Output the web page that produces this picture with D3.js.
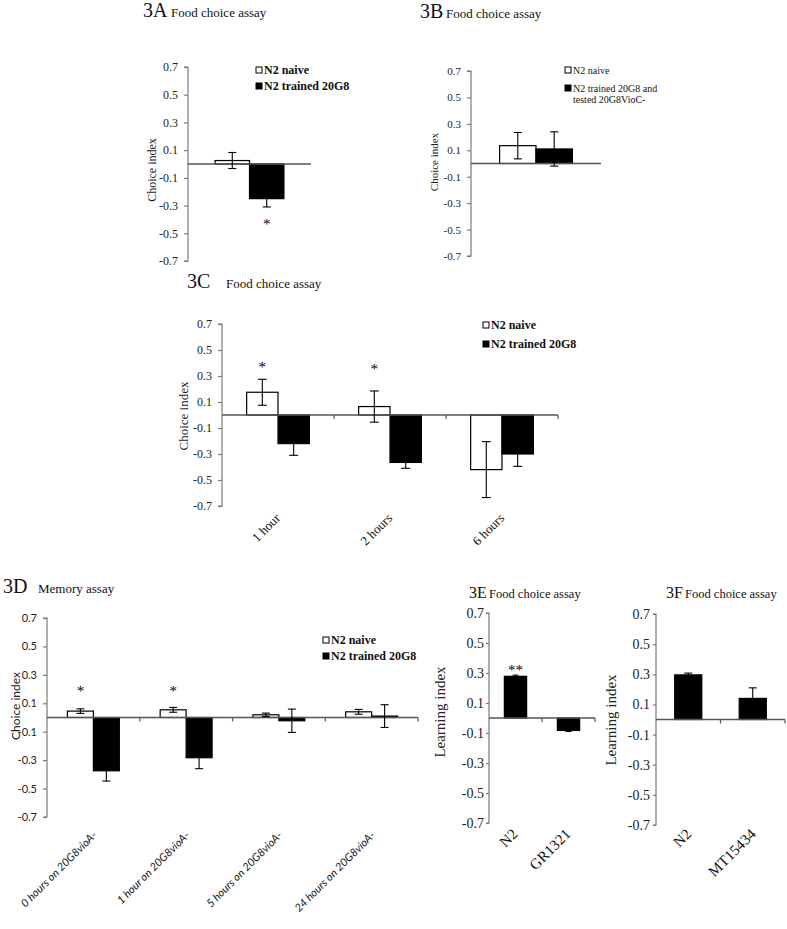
<!DOCTYPE html>
<html>
<head>
<meta charset="utf-8">
<script src="https://cdnjs.cloudflare.com/ajax/libs/d3/7.8.5/d3.min.js"></script>
<style>
  html, body { margin: 0; padding: 0; background: #fff; }
  svg { display: block; }
</style>
</head>
<body>
<div id="chart"></div>
<script>
// ---------------- DATA ----------------
const yTickValues = [0.7, 0.5, 0.3, 0.1, -0.1, -0.3, -0.5, -0.7];
const yTickLabels = ["0.7", "0.5", "0.3", "0.1", "-0.1", "-0.3", "-0.5", "-0.7"];

const seriesNaiveTrained = ["N2 naive", "N2 trained 20G8"];
const seriesB = ["N2 naive", "N2 trained 20G8 and", "tested 20G8VioC-"];

// 3A
const categoriesA = ["all"];
const naiveA = [0.025];
const naiveErrA = [0.058];
const trainedA = [-0.25];
const trainedErrA = [0.06];
const starsA = [{ cat: 0, series: 1, at: -0.42, text: "*" }];

// 3B
const categoriesB = ["all"];
const naiveB = [0.135];
const naiveErrB = [0.1];
const trainedB = [0.11];
const trainedErrB = [0.13];

// 3C
const categoriesC = ["1 hour", "2 hours", "6 hours"];
const naiveC = [0.175, 0.065, -0.42];
const naiveErrC = [0.1, 0.12, 0.215];
const trainedC = [-0.22, -0.365, -0.30];
const trainedErrC = [0.09, 0.045, 0.095];
const starsC = [{ cat: 0, series: 0, at: 0.385, text: "*" }, { cat: 1, series: 0, at: 0.37, text: "*" }];

// 3D
const categoriesD = ["0 hours on 20G8vioA-", "1 hour on 20G8vioA-", "5 hours on 20G8vioA-", "24 hours on 20G8vioA-"];
const naiveD = [0.045, 0.054, 0.019, 0.04];
const naiveErrD = [0.016, 0.017, 0.012, 0.017];
const trainedD = [-0.375, -0.283, -0.023, 0.01];
const trainedErrD = [0.072, 0.077, 0.082, 0.08];
const starsD = [{ cat: 0, series: 0, at: 0.2, text: "*" }, { cat: 1, series: 0, at: 0.2, text: "*" }];

// 3E
const categoriesE = ["N2", "GR1321"];
const learningE = [0.278, -0.083];
const learningErrE = [0.008, 0.007];
const starsE = [{ cat: 0, series: 0, at: 0.333, text: "**" }];

// 3F
const categoriesF = ["N2", "MT15434"];
const learningF = [0.296, 0.14];
const learningErrF = [0.012, 0.07];

// ---------------- DRAWING ----------------
const W = 787, H = 929;
const SERIF = "Liberation Serif, Times New Roman, serif";
const SANS = "Lato, Liberation Sans, sans-serif";
const svg = d3.select("#chart").append("svg").attr("width", W).attr("height", H);
svg.append("rect").attr("width", W).attr("height", H).attr("fill", "#fff");

function panel(cfg) {
  const g = svg.append("g");
  const y = d3.scaleLinear().domain([-0.7, 0.7]).range([cfg.yBottom, cfg.yTop]);
  const x0 = d3.scaleBand().domain(d3.range(cfg.categories.length)).range([cfg.xLeft, cfg.xRight]).padding(0);
  const x1 = d3.scaleBand().domain(d3.range(cfg.series.length)).range([0, x0.bandwidth()])
    .paddingInner(0).paddingOuter(cfg.barPad);
  const tl = cfg.tickLen || 4;

  // y axis
  const yAxis = d3.axisLeft(y).tickValues(yTickValues).tickSize(tl)
    .tickFormat((d, i) => yTickLabels[i]).tickPadding(cfg.tickPad || 5);
  const ya = g.append("g").attr("transform", `translate(${cfg.xLeft},0)`).call(yAxis)
    .attr("font-family", cfg.tickFont || SERIF).attr("font-size", cfg.tickSize || 12);
  ya.select(".domain").attr("stroke", "#7a7a7a").attr("stroke-width", 1.2)
    .attr("d", `M-${tl},${y(0.7)}H0V${y(-0.7)}H-${tl}`);
  ya.selectAll(".tick line").attr("stroke", "#7a7a7a").attr("stroke-width", 1.2);
  ya.selectAll(".tick text").attr("fill", "#222");

  // bars
  cfg.series.forEach((s, si) => {
    const vals = cfg.values[si];
    g.append("g").selectAll("rect").data(vals).join("rect")
      .attr("x", (d, i) => x0(i) + x1(si))
      .attr("width", x1.bandwidth())
      .attr("y", d => y(Math.max(0, d)))
      .attr("height", d => Math.abs(y(d) - y(0)))
      .attr("fill", cfg.fills[si])
      .attr("stroke", "#000").attr("stroke-width", 1.2);
  });

  // zero line
  g.append("line").attr("x1", cfg.xLeft).attr("x2", cfg.xRight)
    .attr("y1", y(0)).attr("y2", y(0)).attr("stroke", "#555").attr("stroke-width", 1.3);
  // category ticks
  if (cfg.catTicks) {
    const bounds = d3.range(1, cfg.categories.length + 1).map(i => cfg.xLeft + i * x0.step());
    g.append("g").selectAll("line").data(bounds).join("line")
      .attr("x1", d => d).attr("x2", d => d).attr("y1", y(0)).attr("y2", y(0) + 4)
      .attr("stroke", "#555").attr("stroke-width", 1.2);
  }

  // error bars
  cfg.series.forEach((s, si) => {
    const vals = cfg.values[si], errs = cfg.errors[si];
    const eg = g.append("g").attr("stroke", "#000").attr("stroke-width", 1.1);
    vals.forEach((v, i) => {
      const cx = x0(i) + x1(si) + x1.bandwidth() / 2;
      const hi = y(v + errs[i]), lo = y(v - errs[i]);
      const cw = cfg.capW || 4;
      eg.append("line").attr("x1", cx).attr("x2", cx).attr("y1", hi).attr("y2", lo);
      eg.append("line").attr("x1", cx - cw).attr("x2", cx + cw).attr("y1", hi).attr("y2", hi);
      eg.append("line").attr("x1", cx - cw).attr("x2", cx + cw).attr("y1", lo).attr("y2", lo);
    });
  });

  // stars
  (cfg.stars || []).forEach(st => {
    const cx = x0(st.cat) + x1(st.series) + x1.bandwidth() / 2;
    g.append("text").attr("x", cx).attr("y", y(st.at) + 7)
      .attr("text-anchor", "middle").attr("font-family", SERIF).attr("font-size", 15)
      .attr("fill", "#000").text(st.text);
  });

  // category labels
  if (cfg.showCatLabels) {
    cfg.categories.forEach((c, i) => {
      const cx = x0(i) + x0.bandwidth() / 2 + cfg.catDx;
      g.append("text").attr("transform", `translate(${cx},${cfg.catY}) rotate(-45)`)
        .attr("text-anchor", "end").attr("font-family", cfg.catFont)
        .attr("font-size", cfg.catSize).attr("font-style", cfg.catItalic ? "italic" : "normal")
        .attr("fill", "#111").text(c);
    });
  }

  // y label
  g.append("text").attr("transform", `translate(${cfg.yLabelX},${cfg.yLabelY}) rotate(-90)`)
    .attr("text-anchor", "middle").attr("font-family", cfg.yLabelFont || SERIF)
    .attr("font-size", cfg.yLabelSize).attr("fill", "#222").text(cfg.yLabel);

  // title
  const t = cfg.title;
  g.append("text").attr("x", t.x).attr("y", t.y).attr("font-family", SERIF)
    .attr("font-size", t.bigSize).attr("fill", "#111").text(t.big);
  g.append("text").attr("x", t.x2).attr("y", t.y).attr("font-family", SERIF)
    .attr("font-size", t.smallSize).attr("fill", "#111").text(t.small);

  // legend
  if (cfg.legend) {
    const L = cfg.legend;
    L.items.forEach((it, i) => {
      const cy = L.rows[i];
      if (it.swatch !== null) {
        g.append("rect").attr("x", L.x).attr("y", cy - 3).attr("width", 6).attr("height", 6)
          .attr("fill", it.swatch).attr("stroke", "#000").attr("stroke-width", 1);
      }
      g.append("text").attr("x", it.indent ? L.x + it.indent : L.x + 8).attr("y", cy + 4)
        .attr("font-family", SERIF).attr("font-size", L.size)
        .attr("font-weight", L.bold ? "bold" : "normal").attr("fill", "#111").text(it.text);
    });
  }
}

const FILLS = ["#fff", "#000"];

// 3A
panel({
  categories: categoriesA, series: seriesNaiveTrained,
  values: [naiveA, trainedA], errors: [naiveErrA, trainedErrA], fills: FILLS,
  xLeft: 188, xRight: 311, yTop: 67, yBottom: 261, barPad: 0.786,
  tickSize: 12, tickPad: 6, capW: 4, stars: starsA,
  yLabel: "Choice index", yLabelX: 156, yLabelY: 170, yLabelSize: 12,
  title: { big: "3A", small: "Food choice assay", x: 143, x2: 171, y: 17, bigSize: 20, smallSize: 13 },
  legend: { x: 256, rows: [70, 86], size: 12, bold: true,
    items: [{ swatch: "#fff", text: seriesNaiveTrained[0] }, { swatch: "#000", text: seriesNaiveTrained[1] }] }
});

// 3B
panel({
  categories: categoriesB, series: seriesNaiveTrained,
  values: [naiveB, trainedB], errors: [naiveErrB, trainedErrB], fills: FILLS,
  xLeft: 471, xRight: 601, yTop: 71, yBottom: 256, barPad: 0.786,
  tickSize: 11, tickPad: 6, capW: 4,
  yLabel: "Choice index", yLabelX: 438, yLabelY: 162, yLabelSize: 11,
  title: { big: "3B", small: "Food choice assay", x: 420, x2: 446, y: 18, bigSize: 20, smallSize: 13 },
  legend: { x: 565, rows: [70, 88, 99], size: 10, bold: false,
    items: [{ swatch: "#fff", text: seriesB[0] }, { swatch: "#000", text: seriesB[1] }, { swatch: null, text: seriesB[2], indent: 8 }] }
});

// 3C
panel({
  categories: categoriesC, series: seriesNaiveTrained,
  values: [naiveC, trainedC], errors: [naiveErrC, trainedErrC], fills: FILLS,
  xLeft: 222, xRight: 558, yTop: 324, yBottom: 506, barPad: 0.786,
  tickSize: 12, tickPad: 6, capW: 4.5, stars: starsC, catTicks: true,
  showCatLabels: true, catDx: 3, catY: 519, catFont: SERIF, catSize: 13,
  yLabel: "Choice index", yLabelX: 188, yLabelY: 416, yLabelSize: 13,
  title: { big: "3C", small: "Food choice assay", x: 187, x2: 226, y: 288, bigSize: 20, smallSize: 13 },
  legend: { x: 483, rows: [325, 344], size: 12, bold: true,
    items: [{ swatch: "#fff", text: seriesNaiveTrained[0] }, { swatch: "#000", text: seriesNaiveTrained[1] }] }
});

// 3D
panel({
  categories: categoriesD, series: seriesNaiveTrained,
  values: [naiveD, trainedD], errors: [naiveErrD, trainedErrD], fills: FILLS,
  xLeft: 47, xRight: 418, yTop: 618, yBottom: 817, barPad: 0.786,
  tickSize: 11, tickPad: 6, tickFont: SANS, capW: 4, stars: starsD, catTicks: true,
  showCatLabels: true, catDx: 4, catY: 836, catFont: SANS, catSize: 11, catItalic: true,
  yLabel: "Choice index", yLabelX: 20, yLabelY: 706, yLabelSize: 12, yLabelFont: SANS,
  title: { big: "3D", small: "Memory assay", x: 3, x2: 38, y: 593, bigSize: 20, smallSize: 13 },
  legend: { x: 323, rows: [640, 656], size: 12, bold: true,
    items: [{ swatch: "#fff", text: seriesNaiveTrained[0] }, { swatch: "#000", text: seriesNaiveTrained[1] }] }
});

// 3E
panel({
  categories: categoriesE, series: ["Learning index"],
  values: [learningE], errors: [learningErrE], fills: ["#000"],
  xLeft: 489, xRight: 595, yTop: 613, yBottom: 823, barPad: 0.69,
  tickSize: 14, tickPad: 2, tickLen: 3, capW: 3, stars: starsE, catTicks: true,
  showCatLabels: true, catDx: 3, catY: 835, catFont: SERIF, catSize: 15,
  yLabel: "Learning index", yLabelX: 445, yLabelY: 712, yLabelSize: 15,
  title: { big: "3E", small: "Food choice assay", x: 469, x2: 489, y: 598, bigSize: 16, smallSize: 12.5 }
});

// 3F
panel({
  categories: categoriesF, series: ["Learning index"],
  values: [learningF], errors: [learningErrF], fills: ["#000"],
  xLeft: 656, xRight: 785, yTop: 614, yBottom: 825, barPad: 0.69,
  tickSize: 14, tickPad: 3, tickLen: 3, capW: 4, catTicks: true,
  showCatLabels: true, catDx: 4, catY: 835, catFont: SERIF, catSize: 15,
  yLabel: "Learning index", yLabelX: 616, yLabelY: 720, yLabelSize: 15,
  title: { big: "3F", small: "Food choice assay", x: 666, x2: 685, y: 598, bigSize: 16, smallSize: 12.5 }
});
</script>
</body>
</html>
